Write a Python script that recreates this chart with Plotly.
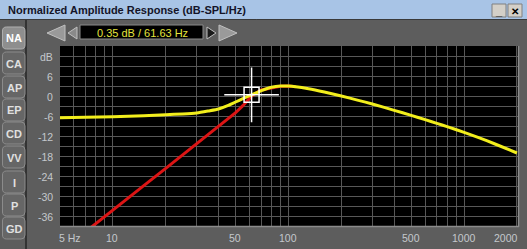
import math
import plotly.graph_objects as go

# ---------------- data ----------------
freq_yellow = [5, 7, 10, 15, 20, 25, 30, 35, 40, 45, 50, 55, 61.63, 70, 80, 90, 100,
               110, 130, 160, 200, 250, 300, 400, 500, 600, 700, 800, 1000, 1200, 1500, 2000]
db_yellow = [-6.5, -6.4, -6.2, -5.9, -5.6, -5.4, -5.1, -4.5, -3.9, -2.9, -1.8, -0.8, 0.35, 1.6, 2.6, 3.0, 3.0,
             2.8, 2.2, 1.2, 0.0, -1.3, -2.4, -4.3, -5.8, -7.1, -8.2, -9.2, -10.9, -12.4, -14.4, -17.1]

freq_red = [7, 7.8, 10, 15, 20, 30, 40, 50, 55, 61.63, 70, 80, 90, 100, 110]
db_red = [-40.7, -38.7, -34.2, -26.9, -21.7, -14.4, -9.2, -5.0, -2.9, 0.0, 1.8, 2.4, 2.9, 3.0, 2.8]

cursor_freq = [61.63]
cursor_db = [0.35]
cursor_text = "0.35 dB / 61.63 Hz"

x_tick_vals = [5, 6, 7, 8, 9, 10, 20, 30, 40, 50, 60, 70, 80, 90, 100,
               200, 300, 400, 500, 600, 700, 800, 900, 1000, 2000]
x_label_vals = [10, 50, 100, 500, 1000]
y_label_vals = [6, 0, -6, -12, -18, -24, -30, -36]
tabs = ["NA", "CA", "AP", "EP", "CD", "VV", "I", "P", "GD"]
title_text = "Normalized Amplitude Response (dB-SPL/Hz)"

# ---------------- geometry ----------------
W, H = 527, 249
L, R, T, B = 60, 518, 46, 226
def px(X):
    return (X - L) / (R - L)
def py(Y):
    return (B - Y) / (B - T)

FONT = "Liberation Sans, Arial, sans-serif"
BG = "#5d5d5d"

fig = go.Figure()
fig.add_trace(go.Scatter(x=freq_red, y=db_red, mode="lines",
                         line=dict(color="#dc1414", width=3), hoverinfo="skip"))
fig.add_trace(go.Scatter(x=freq_yellow, y=db_yellow, mode="lines",
                         line=dict(color="#f2ee1c", width=3, shape="spline", smoothing=0.6),
                         hoverinfo="skip"))
fig.add_trace(go.Scatter(x=cursor_freq, y=cursor_db, mode="markers",
                         marker=dict(symbol="cross-thin-open", size=39, color="white",
                                     line=dict(color="white", width=1.5)), hoverinfo="skip"))
fig.add_trace(go.Scatter(x=cursor_freq, y=cursor_db, mode="markers",
                         marker=dict(symbol="square-open", size=15, color="white",
                                     line=dict(color="white", width=1.5)), hoverinfo="skip"))

shapes = []
annotations = []

def rect(x0, y0, x1, y1, fill, line="rgba(0,0,0,0)", lw=0, layer="above"):
    shapes.append(dict(type="rect", xref="paper", yref="paper",
                       x0=px(x0), x1=px(x1), y0=py(y0), y1=py(y1),
                       fillcolor=fill, line=dict(color=line, width=lw), layer=layer))

def rrect(x0, y0, x1, y1, r, fill, line, lw=1):
    P = lambda a, b: f"{px(a):.5f},{py(b):.5f}"
    d = (f"M {P(x0 + r, y0)} L {P(x1 - r, y0)} Q {P(x1, y0)} {P(x1, y0 + r)} "
         f"L {P(x1, y1 - r)} Q {P(x1, y1)} {P(x1 - r, y1)} "
         f"L {P(x0 + r, y1)} Q {P(x0, y1)} {P(x0, y1 - r)} "
         f"L {P(x0, y0 + r)} Q {P(x0, y0)} {P(x0 + r, y0)} Z")
    shapes.append(dict(type="path", xref="paper", yref="paper", path=d,
                       fillcolor=fill, line=dict(color=line, width=lw), layer="above"))

def poly(pts, fill, line="rgba(0,0,0,0)", lw=0):
    d = "M " + " L ".join(f"{px(a):.5f},{py(b):.5f}" for a, b in pts) + " Z"
    shapes.append(dict(type="path", xref="paper", yref="paper", path=d,
                       fillcolor=fill, line=dict(color=line, width=lw), layer="above"))

def seg(x0, y0, x1, y1, color, lw=1):
    shapes.append(dict(type="line", xref="paper", yref="paper",
                       x0=px(x0), x1=px(x1), y0=py(y0), y1=py(y1),
                       line=dict(color=color, width=lw), layer="above"))

def text(X, Y, s, size, color, anchor="center", bold=False):
    annotations.append(dict(xref="paper", yref="paper", x=px(X), y=py(Y),
                            text=f"<b>{s}</b>" if bold else s, showarrow=False,
                            xanchor=anchor, yanchor="middle",
                            font=dict(family=FONT, size=size, color=color)))

# title bar
rect(0, 0, W, 19, "#a8c4e6")
seg(0, 19.5, W, 19.5, "#3a3a3a", 1)
text(6, 10, title_text, 11, "#141428", anchor="left", bold=True)
# window buttons
for x0 in (492, 508):
    rect(x0, 4, x0 + 14, 17, "#d4d0c8", "#808080", 1)
text(499, 11, "_", 11, "black", bold=True)
text(515, 11, "✕", 10, "black", bold=True)

# left tab divider
seg(26, 20, 26, H, "#262626", 1.5)
# tabs
tab_y = [27, 52, 76, 99, 122, 146, 171, 194, 217]
for i, (name, ty) in enumerate(zip(tabs, tab_y)):
    fill = "#8e8e8e" if i == 0 else "#666666"
    rrect(2.5, ty, 25, ty + 22, 4, fill, "#b0b0b0" if i == 0 else "#8c8c8c", 1)
    text(14, ty + 11.5, name, 11, "white" if i == 0 else "#e0e0e0", bold=True)

# toolbar arrows and readout
poly([(47, 33), (65, 25), (65, 41)], "#9a9a9a", "#c0c0c0", 1)
poly([(68, 33), (77, 27), (77, 39)], "#8a8a8a", "#c0c0c0", 1)
rect(80, 25, 203, 39, "black", "#8a8a8a", 1)
text(142, 32.5, cursor_text, 11, "#e4e43c")
poly([(216, 33), (207, 27), (207, 39)], "#1a1a1a", "#c0c0c0", 1)
poly([(237, 33), (219, 25), (219, 41)], "#9a9a9a", "#c0c0c0", 1)

# plot frame
seg(L, B + 0.5, R + 1, B + 0.5, "#8c8c8c", 1.5)
seg(R + 0.5, T, R + 0.5, B + 1, "#8c8c8c", 1.5)

# axis labels
lab_col = "#c4c8cc"
lab_y = 237.5
text(57, lab_y, "5 Hz", 10.5, lab_col, anchor="left")
for v in x_label_vals:
    X = 112 + 176 * (math.log10(v) - 1)
    text(X, lab_y, str(v), 10.5, lab_col)
text(520, lab_y, "2000", 10.5, lab_col, anchor="right")
for v in y_label_vals:
    Y = 97 - v * (B - T) / 54.0
    text(54.5, Y, str(v), 10.5, lab_col, anchor="right")
text(55, 57, "dB", 10.5, lab_col, anchor="right")

fig.update_layout(
    width=W, height=H,
    margin=dict(l=L, r=W - R, t=T, b=H - B),
    paper_bgcolor=BG, plot_bgcolor="black",
    showlegend=False,
    shapes=shapes, annotations=annotations,
    xaxis=dict(type="log", range=[math.log10(5), 1 + (R - 112) / 176.0],
               tickmode="array", tickvals=x_tick_vals, showticklabels=False,
               ticks="", gridcolor="#585858", gridwidth=1, zeroline=False,
               showline=False, fixedrange=True),
    yaxis=dict(range=[-39, 15], tickmode="linear", tick0=0, dtick=3,
               showticklabels=False, ticks="", gridcolor="#585858", gridwidth=1,
               zeroline=False, showline=False, fixedrange=True),
)

fig.write_html("out.html", config={"displayModeBar": False})
